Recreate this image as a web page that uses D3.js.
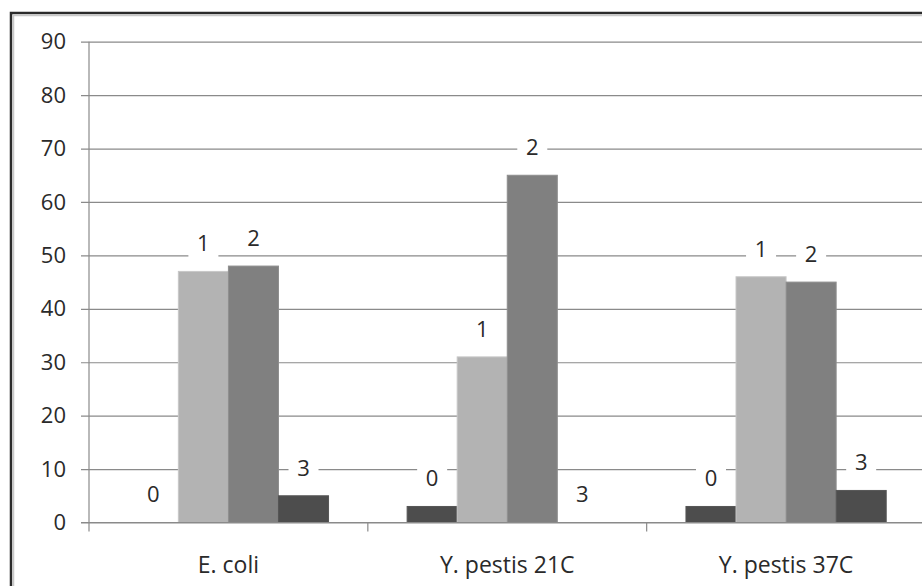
<!DOCTYPE html>
<html lang="en">
<head>
  <meta charset="UTF-8">
  <title>chart</title>
  <script src="https://d3js.org/d3.v7.min.js"></script>
  <style>
    body { margin: 0; background: #fff; }
    text { font-family: "Open Sans", sans-serif; fill: #2a2a2a; }
  </style>
</head>
<body>
  <div class="chart"></div>
  <script>
    const categories = ['E. coli', 'Y. pestis 21C', 'Y. pestis 37C'];
    const seriesNames = ['0', '1', '2', '3'];
    // values per series, one per category
    const series0 = [0, 3, 3];
    const series1 = [47, 31, 46];
    const series2 = [48, 65, 45];
    const series3 = [5, 0, 6];
    const yTicks = [0, 10, 20, 30, 40, 50, 60, 70, 80, 90];

    const allSeries = [series0, series1, series2, series3];
    const colors = ['#4d4d4d', '#b3b3b3', '#808080', '#4d4d4d'];

    const W = 922, H = 586;
    const plotLeft = 89, plotRight = 925.5, plotTop = 41.7, plotBottom = 522.5;

    const svg = d3.select('.chart').append('svg').attr('width', W).attr('height', H);

    // outer frame
    svg.append('rect')
      .attr('x', 11).attr('y', 13).attr('width', W + 20).attr('height', H + 20)
      .attr('fill', '#fff').attr('stroke', '#2b2b2b').attr('stroke-width', 2.5);
    svg.append('rect')
      .attr('x', 13.5).attr('y', 15.5).attr('width', W + 20).attr('height', H + 20)
      .attr('fill', 'none').attr('stroke', '#c8c8c8').attr('stroke-width', 1.5);

    const y = d3.scaleLinear().domain([0, 90]).range([plotBottom, plotTop]);
    const x = d3.scaleBand().domain(categories).range([plotLeft, plotRight]).paddingInner(0).paddingOuter(0);
    const xs = d3.scaleBand().domain(seriesNames).range([0, x.bandwidth()]).paddingInner(0).paddingOuter(0.785);

    // gridlines + y labels
    const yAxis = svg.append('g')
      .attr('transform', `translate(${plotLeft},0)`)
      .call(d3.axisLeft(y).tickValues(yTicks).tickSize(0).tickPadding(23));
    yAxis.select('.domain').remove();
    yAxis.selectAll('.tick line')
      .attr('x1', -8).attr('x2', W - plotLeft)
      .attr('stroke', '#8a8a8a').attr('stroke-width', 1.2);
    yAxis.selectAll('.tick text').attr('font-size', 22).attr('fill', '#2a2a2a');

    // y axis line
    svg.append('line')
      .attr('x1', plotLeft).attr('x2', plotLeft).attr('y1', plotTop).attr('y2', plotBottom + 9)
      .attr('stroke', '#8a8a8a').attr('stroke-width', 1.2);

    // category ticks
    const catEdges = categories.map(c => x(c)).concat([plotRight]).slice(1);
    svg.selectAll('.ctick').data(catEdges).enter().append('line')
      .attr('x1', d => d).attr('x2', d => d)
      .attr('y1', plotBottom).attr('y2', plotBottom + 9)
      .attr('stroke', '#8a8a8a').attr('stroke-width', 1.2);

    // bars
    const cells = [];
    categories.forEach((c, ci) => {
      allSeries.forEach((s, si) => {
        cells.push({ cat: c, s: seriesNames[si], si: si, v: s[ci] });
      });
    });

    svg.selectAll('.bar').data(cells).enter().append('rect')
      .attr('x', d => x(d.cat) + xs(d.s))
      .attr('y', d => y(d.v))
      .attr('width', xs.bandwidth())
      .attr('height', d => y(0) - y(d.v))
      .attr('fill', d => colors[d.si])
      .attr('stroke', d => d3.color(colors[d.si]).brighter(0.3))
      .attr('stroke-width', 1);

    // baseline
    svg.append('line')
      .attr('x1', plotLeft - 8).attr('x2', W).attr('y1', plotBottom).attr('y2', plotBottom)
      .attr('stroke', '#8a8a8a').attr('stroke-width', 1.2);

    // data labels (series name)
    const lab = svg.selectAll('.lab').data(cells).enter().append('g')
      .attr('transform', d => `translate(${x(d.cat) + xs(d.s) + xs.bandwidth() / 2},${y(d.v) - 28})`);
    lab.append('rect')
      .attr('x', -15).attr('y', -15).attr('width', 30).attr('height', 30)
      .attr('fill', '#fff');
    lab.append('text')
      .attr('text-anchor', 'middle').attr('dy', '0.36em')
      .attr('font-size', 22)
      .text(d => d.s);

    // category labels
    svg.selectAll('.cat').data(categories).enter().append('text')
      .attr('x', d => x(d) + x.bandwidth() / 2)
      .attr('y', 573)
      .attr('text-anchor', 'middle')
      .attr('font-size', 23)
      .text(d => d);
  </script>
</body>
</html>
